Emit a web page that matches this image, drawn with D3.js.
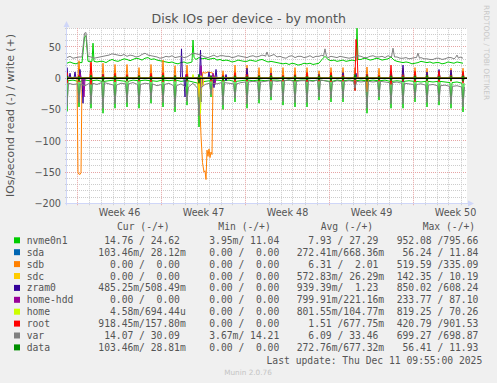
<!DOCTYPE html>
<html><head><meta charset="utf-8">
<script src="https://cdn.jsdelivr.net/npm/d3@7/dist/d3.min.js"></script>
<style>
html,body{margin:0;padding:0;background:#F0F0F0;overflow:hidden;}
svg{display:block;}
.pre{white-space:pre;}
</style></head><body>
<svg id="c" width="497" height="383"></svg>
<script>
// ================= DATA =================
const title = "Disk IOs per device - by month";
const yTitle = "IOs/second read (-) / write (+)";
const startTime = "2025-11-09T04:00:00Z";   // left edge of plot
const endTime   = "2025-12-12T12:00:00Z";   // right edge (800 h)
const weekStarts = ["2025-11-10","2025-11-17","2025-11-24","2025-12-01","2025-12-08"];
const weekLabels = ["Week 46","Week 47","Week 48","Week 49","Week 50"];
const yTicks = [50, 0, -50, -100, -150, -200];
const yDomain = [-200, 80];
const lastUpdate = "Last update: Thu Dec 11 09:55:00 2025";
const footer = "Munin 2.0.76";
const watermark = "RRDTOOL / TOBI OETIKER";
const legendHeaders = ["Cur (-/+)", "Min (-/+)", "Avg (-/+)", "Max (-/+)"];

const devices = ["nvme0n1","sda","sdb","sdc","zram0","home-hdd","home","root","var","data"];
const colors  = ["#00CC00","#0066B3","#FF8000","#FFCC00","#330099","#990099","#CCFF00","#FF0000","#808080","#008F00"];
const legendCur = [" 14.76 / 24.62 ","103.46m/ 28.12m","  0.00 /  0.00 ","  0.00 /  0.00 ","485.25m/508.49m","  0.00 /  0.00 ","  4.58m/694.44u","918.45m/157.80m"," 14.07 / 30.09 ","103.46m/ 28.81m"];
const legendMin = ["  3.95m/ 11.04 ","  0.00 /  0.00 ","  0.00 /  0.00 ","  0.00 /  0.00 ","  0.00 /  0.00 ","  0.00 /  0.00 ","  0.00 /  0.00 ","  0.00 /  0.00 ","  3.67m/ 14.21 ","  0.00 /  0.00 "];
const legendAvg = ["  7.93 / 27.29 ","272.41m/668.36m","  6.31 /  2.01 ","572.83m/ 26.29m","939.39m/  1.23 ","799.91m/221.16m","801.55m/104.77m","  1.51 /677.75m","  6.09 / 33.46 ","272.76m/677.32m"];
const legendMax = ["952.08 /795.66 "," 56.24 / 11.84 ","519.59 /335.09 ","142.35 / 10.19 ","850.02 /608.24 ","233.77 / 87.10 ","819.25 / 70.26 ","420.79 /901.53 ","699.27 /698.87 "," 56.41 / 11.93 "];

// Time unit: hours since startTime.
// write bases of nvme0n1/var: one value every 6 h; read bases: one value every 12 h.
// "daily" arrays: one short spike per day (at hour 24*k). Read values are positive (drawn below 0).
const nvmeWriteBase = [24,26,24,23,25,27,26,25,27,29, 26,27,27,25,28,30,28,27,29,31,
  30,28,30,32,31,29,32,33,30,31, 29,28,27,26,25,26,24,23,25,26,
  24,25,26,30,33,31,32,30,31,32, 29,30,28,29,28,26,27,29,28,27,
  27,29,28,27,29,30,28,26,27,26, 25,24,23,24,22,24,23,21,22,24,
  23,24,22,23,24,30,35,30,28,29, 27,28,29,27,28,29,28,29,30,32,
  31,29,30,32,31,29,30,31,34,29, 27,26,25,26,25,23,24,25,27,26,
  25,26,24,25,25,23,24,26,25,24, 26,25,24];
const nvmeWritePeaks = [[[30,25],[35,66],[38,68],[42,27]], [[50,27],[52,56],[54,27]], [[250,26],[252,61],[254,33]], [[578,28],[580,80],[582,30]]];
const nvmeReadBase = [4,3,5,3,4,3,5,4,3,4, 5,3,4,3,4,5,3,4,3,5, 4,6,8,5,4,3,4,3,5,4, 3,4,3,4,3,3,4,3,4,3, 3,4,3,4,5,3,4,3,4,3, 4,3,4,3,5,4,5,4,5,6, 5,6,5,6,7,6,8];
const nvmeReadDaily = [53,46,48,56,48,46,48,40,46,54,43,78,30,50,38,48,40,35,43,46,46,35,38,38,19,56,35,48,48,38,46,43,48,54];

const varWriteBase = [33,35,32,33,34,36,34,35,34,32, 33,34,35,36,37,39,38,37,36,38,
  35,37,36,34,35,38,40,37,36,35, 34,32,33,35,34,36,33,34,35,33,
  34,37,40,39,38,36,34,33,35,37, 34,36,36,35,35,33,34,36,35,34,
  33,35,36,34,35,37,36,34,36,38, 34,35,33,32,35,36,33,35,35,33,
  34,36,33,35,35,37,35,33,35,34, 33,35,34,33,32,33,34,36,35,33,
  33,35,36,34,34,35,33,36,34,35, 34,32,32,33,31,32,33,35,33,31,
  31,30,30,32,32,30,31,33,33,31, 33,34,32];
const varWritePeaks = [[[30,34],[35,72],[38,73],[42,35]], [[397,35],[400,42],[403,35]], [[513,35],[516,47],[519,35]], [[649,34],[652,48],[655,34]], [[699,33],[702,40],[705,32]], [[777,33],[780,37],[783,32]]];
const varReadBase = [8,10,9,12,8,10,7,9,11,8, 9,7,10,8,9,12,10,8,12,9, 14,8,16,10,8,9,7,8,9,7, 6,5,6,5,4,5,4,3,5,4, 4,5,3,4,6,4,5,4,5,6, 5,6,5,6,7,6,8,9,10,9, 11,10,12,11,13,12,14];
const varReadDaily = [45,39,41,48,41,39,41,34,39,46,37,60,26,43,32,41,34,30,37,39,39,30,32,32,16,48,30,41,41,32,39,37,41,46];

const sdbWriteDaily = [6,28,24,24,22,22,17,22,29,20,21,null,null,12,21,21,17,17,17,17,17,12,17,17,17,18,16,12,16,17,16,12,16,16];
const sdbWritePeaks = [[[270,0],[272,10],[276,8],[282,10],[288,9],[292,8],[296,0]]];
const sdbReadPeaks = [
  [[20,0],[22,152],[24,153],[26,154],[28,151],[30,0]],
  [[262,0],[266,50],[268,92],[271,135],[274,150],[276,148],[278,162],[280,115],[282,125],[284,113],[286,127],[288,118],[290,122],[292,2],[294,0]],
  [[598,0],[600,22],[603,0]]
];

const zramWriteSpikes = [[0,17],[6,8],[16,10],[26,14],[72,6],[120,4],[168,5],[229,47],[267,45],[284,10],[298,14],[318,6],[360,16],[408,8],[456,5],[504,6],[552,9],[578,8],[600,6],[648,10],[672,21],[720,10],[744,14],[768,13],[792,8]];
const zramReadSpikes = [[32,40],[236,30],[268,38],[294,15],[318,4],[672,6],[696,5]];
const homeHddWriteSpikes = [[26,8],[238,6],[268,20],[292,8]];
const homeHddReadSpikes = [[34,30],[268,25],[296,10]];
const homeWriteSpikes = [[252,6],[268,4]];
const homeReadSpikes = [[267,56]];
const sdcWriteSpikes = [[268,3]];
const sdcReadSpikes = [[264,30],[272,12]];

const rootWriteDaily = [9,5,26,6,8,6,5,8,9,5,7,5,4,5,9,6,5,7,5,6,9,5,9,5,null,6,5,21,5,11,5,11,5,11];
const rootWritePeaks = [[[576,0],[578,62],[580,45],[582,0]]];
const rootReadDaily = [8,6,10,5,6,5,5,6,6,5,5,8,5,5,6,5,5,5,5,5,6,5,6,5,20,5,5,10,5,6,5,6,5,8];

const dataWriteDaily = [4,3,5,3,4,3,4,3,5,4,3,6,4,3,4,3,4,5,3,4,3,4,5,3,6,4,3,4,3,4,5,3,4,4];
const dataReadDaily = [3,4,3,5,3,4,3,3,4,3,4,8,3,4,3,3,4,3,3,4,3,3,4,3,3,5,3,4,3,3,4,3,4,5];

// series specs (per device: read then write). step = hours between base values, hw = spike half width (h)
const seriesSpec = {
  "nvme0n1": {read:{base:nvmeReadBase, step:12, daily:nvmeReadDaily, hw:2}, write:{base:nvmeWriteBase, step:6, groups:nvmeWritePeaks}},
  "sda":     {read:{daily:dataReadDaily, hw:2}, write:{daily:dataWriteDaily, hw:2}},
  "sdb":     {read:{groups:sdbReadPeaks}, write:{daily:sdbWriteDaily, hw:2, groups:sdbWritePeaks}},
  "sdc":     {read:{spikes:sdcReadSpikes}, write:{spikes:sdcWriteSpikes}},
  "zram0":   {read:{spikes:zramReadSpikes}, write:{spikes:zramWriteSpikes}},
  "home-hdd":{read:{spikes:homeHddReadSpikes}, write:{spikes:homeHddWriteSpikes}},
  "home":    {read:{spikes:homeReadSpikes}, write:{spikes:homeWriteSpikes}},
  "root":    {read:{daily:rootReadDaily, hw:2}, write:{daily:rootWriteDaily, hw:2, groups:rootWritePeaks}},
  "var":     {read:{base:varReadBase, step:12, daily:varReadDaily, hw:3}, write:{base:varWriteBase, step:6, groups:varWritePeaks}},
  "data":    {read:{daily:dataReadDaily, hw:2}, write:{daily:dataWriteDaily, hw:2}}
};

// ================= DRAW =================
const W = 497, H = 383;
const svg = d3.select("#c");
const FONT = "'DejaVu Sans', Verdana, sans-serif";
const MONO = "'DejaVu Sans Mono', monospace";
const TXT = "#555555";

svg.append("rect").attr("width", W).attr("height", H).attr("fill", "#F0F0F0");

const P = {l:67, r:467, t:28.2, b:203.3};
const t0 = new Date(startTime), t1 = new Date(endTime);
const x = d3.scaleUtc().domain([t0, t1]).range([P.l, P.r]);
const y = d3.scaleLinear().domain(yDomain).range([P.b, P.t]);
const hourToDate = h => new Date(t0.getTime() + h * 3600e3);
const crisp = v => Math.floor(v) + 0.5;

svg.append("rect").attr("x", P.l).attr("y", P.t).attr("width", P.r - P.l).attr("height", P.b - P.t).attr("fill", "#FFFFFF");

// grid
const grid = svg.append("g");
const minorCol = "#CCCCCC", majorCol = "#E6A4A4";
for (let v = yDomain[0] + 10; v <= yDomain[1]; v += 10) {
  const major = yTicks.includes(v);
  const yy = crisp(y(v));
  grid.append("line").attr("x1", P.l - 2).attr("x2", P.r).attr("y1", yy).attr("y2", yy)
    .attr("stroke", major ? majorCol : minorCol).attr("stroke-dasharray", "1,1").attr("stroke-width", 1);
}
const weekDates = weekStarts.map(s => new Date(s + "T00:00:00Z"));
d3.utcDay.range(t0, t1).forEach(d => {
  const major = weekDates.some(w => w.getTime() === d.getTime());
  const xx = crisp(x(d));
  if (xx <= P.l) return;
  grid.append("line").attr("x1", xx).attr("x2", xx).attr("y1", P.t).attr("y2", P.b + 2)
    .attr("stroke", major ? majorCol : minorCol).attr("stroke-dasharray", "1,1").attr("stroke-width", 1);
});

// build series points
function buildPoints(spec) {
  const groups = spec.groups || [];
  const spans = groups.map(g => [g[0][0], g[g.length - 1][0]]);
  const inSpan = h => spans.some(([a, b]) => h >= a && h <= b);
  const hw = spec.hw || 2;
  const pts = [];
  const dailyAt = h => spec.daily && h % 24 === 0 && spec.daily[h / 24] != null;
  if (spec.base) {
    spec.base.forEach((v, i) => {
      const h = i * spec.step;
      if (v == null || inSpan(h) || dailyAt(h)) return;
      pts.push([h, v]);
    });
  } else {
    pts.push([0, 0]); pts.push([800, 0]);
  }
  if (spec.daily) {
    spec.daily.forEach((v, k) => {
      if (v == null) return;
      const h = 24 * k;
      if (inSpan(h)) return;
      const s = spec.base ? spec.base[h / spec.step] : 0;
      pts.push([h - hw, s], [h, v], [h + hw, s]);
    });
  }
  (spec.spikes || []).forEach(([h, v]) => { pts.push([h - 2, 0], [h, v], [h + 2, 0]); });
  groups.forEach(g => g.forEach(p => pts.push(p)));
  return pts.map((p, i) => [p[0], p[1], i]).sort((a, b) => a[0] - b[0] || a[2] - b[2]);
}

svg.append("clipPath").attr("id", "clip").append("rect")
  .attr("x", P.l).attr("y", P.t - 2).attr("width", P.r - P.l + 1).attr("height", P.b - P.t + 2);
const lines = svg.append("g").attr("clip-path", "url(#clip)");
const lineGen = sign => d3.line().x(d => x(hourToDate(d[0]))).y(d => y(sign * d[1]));

devices.forEach((dev, i) => {
  const spec = seriesSpec[dev];
  lines.append("path").datum(buildPoints(spec.read)).attr("d", lineGen(-1))
    .attr("fill", "none").attr("stroke", colors[i]).attr("stroke-width", 1).attr("stroke-linejoin", "round");
  lines.append("path").datum(buildPoints(spec.write)).attr("d", lineGen(1))
    .attr("fill", "none").attr("stroke", colors[i]).attr("stroke-width", 1).attr("stroke-linejoin", "round");
});

// zero rule
svg.append("line").attr("x1", P.l).attr("x2", P.r).attr("y1", crisp(y(0))).attr("y2", crisp(y(0)))
  .attr("stroke", "#000").attr("stroke-width", 1);

// axes lines + arrows
const axCol = "#CFD6F8";
svg.append("line").attr("x1", P.l - 0.5).attr("x2", P.l - 0.5).attr("y1", P.b + 2).attr("y2", 24).attr("stroke", axCol);
svg.append("line").attr("x1", P.l - 2).attr("x2", P.r + 3).attr("y1", crisp(P.b)).attr("y2", crisp(P.b)).attr("stroke", axCol);
svg.append("path").attr("d", `M${P.l - 3.5},27 L${P.l - 0.5},21 L${P.l + 2.5},27 Z`).attr("fill", axCol);
svg.append("path").attr("d", `M${P.r + 1},${crisp(P.b) - 3} L${P.r + 7},${crisp(P.b)} L${P.r + 1},${crisp(P.b) + 3} Z`).attr("fill", axCol);

// y axis labels
const yAxis = svg.append("g").attr("transform", `translate(${P.l},0)`)
  .call(d3.axisLeft(y).tickValues(yTicks).tickSize(0).tickPadding(6).tickFormat(d3.format("d")));
yAxis.select(".domain").remove();
yAxis.selectAll("text").attr("fill", TXT).attr("font-family", FONT).attr("font-size", "9.7px").attr("dy", "0.34em");

// x axis labels at mid-week
const weekMids = weekDates.map(d => new Date(d.getTime() + 3.5 * 864e5));
const xAxis = svg.append("g").attr("transform", `translate(0,${P.b})`)
  .call(d3.axisBottom(x).tickValues(weekMids).tickSize(0).tickFormat((d, i) => weekLabels[i]));
xAxis.select(".domain").remove();
xAxis.selectAll("text").attr("fill", TXT).attr("font-family", FONT).attr("font-size", "9.6px").attr("y", 12.8).attr("dy", 0);

// title
svg.append("text").attr("x", 248.7).attr("y", 22.5).attr("text-anchor", "middle")
  .attr("font-family", FONT).attr("font-size", "12.6px").attr("fill", TXT).text(title);
// y title
svg.append("text").attr("transform", "translate(14,115.5) rotate(-90)").attr("text-anchor", "middle")
  .attr("font-family", FONT).attr("font-size", "10.9px").attr("fill", TXT).text(yTitle);
// watermark
svg.append("text").attr("transform", "translate(484,5) rotate(90)").attr("text-anchor", "start")
  .attr("font-family", FONT).attr("font-size", "7.4px").attr("fill", "#C8C8C8").text(watermark);

// legend
const headerX = [117, 218.3, 320.7, 422.7];
legendHeaders.forEach((h, i) => {
  svg.append("text").attr("class", "pre").attr("x", headerX[i]).attr("y", 230.2)
    .attr("font-family", MONO).attr("font-size", "9.7px").attr("fill", TXT).text(h);
});
const fieldX = [98.3, 197.6, 296.7, 396.7];
const rowY = i => 240.3 + 11.9 * i;
devices.forEach((dev, i) => {
  const cy = rowY(i);
  svg.append("rect").attr("x", 14).attr("y", cy - 3).attr("width", 6).attr("height", 6).attr("fill", colors[i]);
  svg.append("text").attr("class", "pre").attr("x", 26.7).attr("y", cy + 3.5)
    .attr("font-family", MONO).attr("font-size", "9.7px").attr("fill", TXT).text(dev);
  [legendCur, legendMin, legendAvg, legendMax].forEach((arr, j) => {
    svg.append("text").attr("class", "pre").attr("x", fieldX[j]).attr("y", cy + 3.5)
      .attr("font-family", MONO).attr("font-size", "9.7px").attr("fill", TXT).text(arr[i]);
  });
});
svg.append("text").attr("class", "pre").attr("x", 482.3).attr("y", 363.5).attr("text-anchor", "end")
  .attr("font-family", MONO).attr("font-size", "9.7px").attr("fill", TXT).text(lastUpdate);
svg.append("text").attr("x", 248).attr("y", 375).attr("text-anchor", "middle")
  .attr("font-family", FONT).attr("font-size", "7.3px").attr("fill", "#C4C4C4").text(footer);
</script>
</body></html>
